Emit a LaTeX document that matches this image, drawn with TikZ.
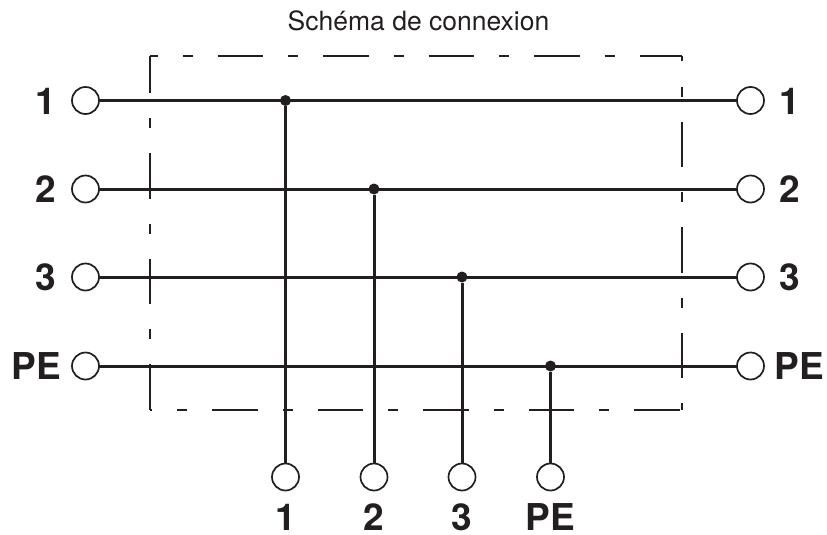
\documentclass[tikz,border=0pt]{standalone}
\usepackage{fontspec}
\setmainfont{TeX Gyre Heros}
\definecolor{ink}{HTML}{231F20}
\tikzset{
  terminal/.style={circle,draw=ink,fill=white,line width=1.7pt,minimum size=27pt,inner sep=0pt,outer sep=0pt},
  junction/.style={circle,fill=ink,minimum size=11pt,inner sep=0pt,outer sep=0pt},
  wire/.style={draw=ink,line width=3pt},
  frameline/.style={draw=ink,line width=1.5pt},
  pinlabel/.style={font=\fontsize{37}{39}\selectfont\bfseries,text=ink,inner sep=0pt,anchor=base},
  titlelabel/.style={font=\fontsize{26.5}{28}\selectfont,text=ink,inner sep=0pt,anchor=base}
}
\begin{document}
\begin{tikzpicture}[x=1pt,y=-1pt]
\useasboundingbox (0,0) rectangle (827,535);
% dashed frame
\coordinate (tl) at (150,56); \coordinate (tr) at (682,56);
\coordinate (bl) at (150,410); \coordinate (br) at (682,410);
\draw[frameline,dash pattern=on 45.5pt off 25pt on 10pt off 25pt,dash phase=37.8pt] (tl) -- (tr);
\draw[frameline,dash pattern=on 45.5pt off 25pt on 10pt off 25pt,dash phase=8.5pt] (tl) -- (bl);
\draw[frameline,dash pattern=on 45.5pt off 25pt on 10pt off 25pt,dash phase=40pt] (tr) -- (br);
\draw[frameline,dash pattern=on 45.5pt off 25pt on 10pt off 25pt,dash phase=43.5pt] (bl) -- (br);
% terminals
\node[terminal] (l1) at (85.5,100.5) {};
\node[terminal] (l2) at (85.5,189) {};
\node[terminal] (l3) at (85.5,277) {};
\node[terminal] (l4) at (85.5,366) {};
\node[terminal] (r1) at (750.5,100.5) {};
\node[terminal] (r2) at (750.5,189) {};
\node[terminal] (r3) at (750.5,277) {};
\node[terminal] (r4) at (750.5,366) {};
\node[terminal] (b1) at (285.5,477) {};
\node[terminal] (b2) at (374,477) {};
\node[terminal] (b3) at (462,477) {};
\node[terminal] (b4) at (550.5,477) {};
% junctions
\node[junction] (j1) at (285.5,100.5) {};
\node[junction] (j2) at (374,189) {};
\node[junction] (j3) at (462,277) {};
\node[junction] (j4) at (550.5,366) {};
% wires
\draw[wire] (l1) -- (r1);
\draw[wire] (l2) -- (r2);
\draw[wire] (l3) -- (r3);
\draw[wire] (l4) -- (r4);
\draw[wire] (j1) -- (b1);
\draw[wire] (j2) -- (b2);
\draw[wire] (j3) -- (b3);
\draw[wire] (j4) -- (b4);
% labels
\node[titlelabel] (title) at (418.5,31) {Schéma de connexion};
\node[pinlabel] (tl1) at (45.5,114) {1};
\node[pinlabel] (tl2) at (45.5,202.5) {2};
\node[pinlabel] (tl3) at (45.5,290.5) {3};
\node[pinlabel] (tl4) at (36.5,379.5) {PE};
\node[pinlabel] (tr1) at (790,114) {1};
\node[pinlabel] (tr2) at (790,202.5) {2};
\node[pinlabel] (tr3) at (790,290.5) {3};
\node[pinlabel] (tr4) at (799,379.5) {PE};
\node[pinlabel] (tb1) at (285.5,530) {1};
\node[pinlabel] (tb2) at (373.5,530) {2};
\node[pinlabel] (tb3) at (462,530) {3};
\node[pinlabel] (tb4) at (550,530) {PE};
\end{tikzpicture}
\end{document}
